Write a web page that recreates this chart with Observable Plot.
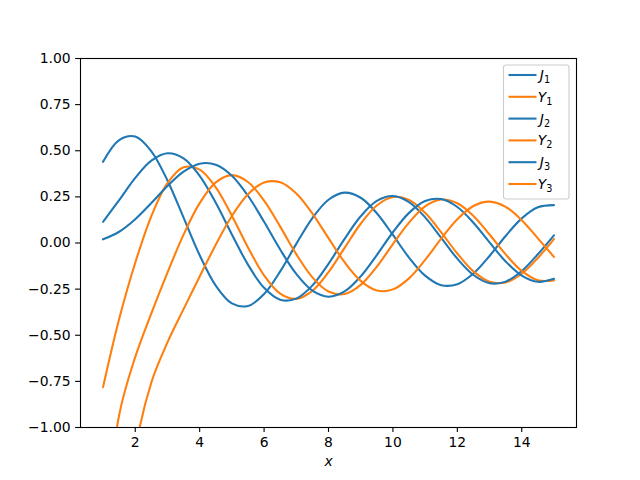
<!DOCTYPE html>
<html>
<head>
<meta charset="utf-8">
<script src="https://cdn.jsdelivr.net/npm/d3@7"></script>
<script src="https://cdn.jsdelivr.net/npm/@observablehq/plot@0.6"></script>
<style>
  html, body { margin: 0; padding: 0; background: white; }
  #chart { width: 640px; height: 480px; }
</style>
</head>
<body>
<div id="chart"></div>
<script>
// x sample positions
const xs = [1, 1.5, 2, 2.5, 3, 3.5, 4, 4.5, 5, 5.5, 6, 6.5, 7, 7.5, 8, 8.5, 9, 9.5, 10, 10.5, 11, 11.5, 12, 12.5, 13, 13.5, 14, 14.5, 15];

// series values read for each curve
const j1 = [0.4401, 0.5579, 0.5767, 0.4971, 0.3391, 0.1374, -0.0660, -0.2311, -0.3276, -0.3414, -0.2767, -0.1538, -0.0047, 0.1352, 0.2346, 0.2731, 0.2453, 0.1613, 0.0435, -0.0789, -0.1768, -0.2284, -0.2234, -0.1655, -0.0703, 0.0380, 0.1334, 0.1934, 0.2051];
const y1 = [-0.7812, -0.4123, -0.1070, 0.1459, 0.3247, 0.4102, 0.3979, 0.3010, 0.1479, -0.0238, -0.1750, -0.2741, -0.3027, -0.2591, -0.1581, -0.0262, 0.1043, 0.2032, 0.2490, 0.2337, 0.1637, 0.0579, -0.0571, -0.1538, -0.2101, -0.2140, -0.1666, -0.0810, 0.0211];
const j2 = [0.1150, 0.2321, 0.3528, 0.4461, 0.4862, 0.4586, 0.3641, 0.2178, 0.0466, -0.1173, -0.2428, -0.3074, -0.3014, -0.2302, -0.1130, 0.0224, 0.1448, 0.2279, 0.2546, 0.2216, 0.1391, 0.0280, -0.0849, -0.1734, -0.2177, -0.2094, -0.1520, -0.0608, 0.0416];
const y2 = [-1.6507, -0.9321, -0.6174, -0.3814, -0.1604, 0.0454, 0.2159, 0.3285, 0.3677, 0.3308, 0.2299, 0.0889, -0.0606, -0.1864, -0.2630, -0.2764, -0.2267, -0.1284, -0.0059, 0.1105, 0.1986, 0.2353, 0.2157, 0.1466, 0.0459, -0.0618, -0.1510, -0.2015, -0.2027];
const j3 = [0.0199, 0.0610, 0.1289, 0.2167, 0.3092, 0.3867, 0.4301, 0.4247, 0.3649, 0.2561, 0.1148, -0.0354, -0.1675, -0.2580, -0.2911, -0.2626, -0.1809, -0.0653, 0.0583, 0.1633, 0.2274, 0.2381, 0.1951, 0.1100, 0.0033, -0.1000, -0.1768, -0.2102, -0.1940];
const y3 = [-5.8216, -2.0733, -1.1278, -0.7561, -0.5386, -0.3583, -0.1820, -0.0090, 0.1463, 0.2644, 0.3283, 0.3288, 0.2681, 0.1597, 0.0266, -0.1039, -0.2051, -0.2573, -0.2514, -0.1916, -0.0915, 0.0239, 0.1290, 0.2007, 0.2242, 0.1957, 0.1235, 0.0254, -0.0752];

// series names / kinds (legend order)
const seriesNames = ["J1", "Y1", "J2", "Y2", "J3", "Y3"];
const seriesKinds = ["J", "Y", "J", "Y", "J", "Y"];
const seriesValues = [j1, y1, j2, y2, j3, y3];

// tick values
const xTicks = [2, 4, 6, 8, 10, 12, 14];
const yTicks = [-1, -0.75, -0.5, -0.25, 0, 0.25, 0.5, 0.75, 1];

const kindColors = ["#1f77b4", "#ff7f0e"];

const rows = [];
seriesNames.forEach((name, k) => {
  seriesValues[k].forEach((v, i) => rows.push({series: name, kind: seriesKinds[k], x: xs[i], y: v}));
});

const FS = 13.9;

const plot = Plot.plot({
  width: 640,
  height: 480,
  marginLeft: 80,
  marginRight: 64,
  marginTop: 58,
  marginBottom: 53,
  style: {fontFamily: "DejaVu Sans", fontSize: FS + "px", color: "black", background: "white"},
  x: {domain: [0.3, 15.7]},
  y: {domain: [-1, 1]},
  color: {domain: ["J", "Y"], range: kindColors},
  marks: [
    Plot.line(rows, {x: "x", y: "y", z: "series", stroke: "kind", strokeWidth: 2.08, curve: "catmull-rom", clip: true}),
    Plot.frame({stroke: "black", strokeWidth: 1.1}),
    Plot.axisX({ticks: xTicks, tickSize: 4.9, tickPadding: 4.9, fontSize: FS, label: null, strokeWidth: 1.1}),
    Plot.axisY({ticks: yTicks, tickFormat: d3.format(".2f"), tickSize: 4.9, tickPadding: 4.9, fontSize: FS, label: null, strokeWidth: 1.1}),
    Plot.text(["x"], {frameAnchor: "bottom", dy: 34, text: d => d, fontStyle: "italic", fontSize: FS, lineAnchor: "middle"})
  ]
});

document.getElementById("chart").appendChild(plot);

// legend inside the axes (upper right)
const svg = d3.select(plot);
const lg = svg.append("g").attr("font-family", "DejaVu Sans");
lg.append("rect")
  .attr("x", 503.5).attr("y", 65).attr("width", 65.5).attr("height", 134)
  .attr("rx", 2.5).attr("fill", "white").attr("fill-opacity", 0.8)
  .attr("stroke", "#cccccc").attr("stroke-width", 1.1);
seriesNames.forEach((name, k) => {
  const cy = 75 + k * 21.8;
  lg.append("line")
    .attr("x1", 508.5).attr("x2", 536.5).attr("y1", cy).attr("y2", cy)
    .attr("stroke", kindColors[k % 2]).attr("stroke-width", 2.08);
  const t = lg.append("text").attr("x", 545).attr("y", cy + 5).attr("font-size", FS).attr("fill", "black");
  t.append("tspan").attr("font-style", "italic").text(name[0]);
  t.append("tspan").attr("font-size", FS * 0.7).attr("dy", 3).text(name.slice(1));
});
</script>
</body>
</html>
